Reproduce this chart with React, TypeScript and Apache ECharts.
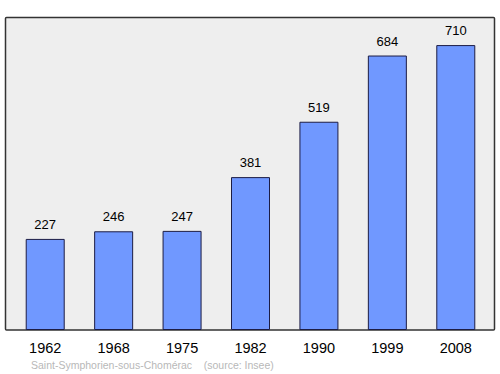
import React, { useEffect, useRef } from "react";
import * as echarts from "echarts";

const years = ["1962", "1968", "1975", "1982", "1990", "1999", "2008"];
const population = [227, 246, 247, 381, 519, 684, 710];
const sourceText = "Saint-Symphorien-sous-Chomérac    (source: Insee)";

export default function App() {
  const ref = useRef<HTMLDivElement>(null);
  useEffect(() => {
    if (!ref.current) return;
    const chart = echarts.init(ref.current, undefined, { renderer: "svg" });
    chart.setOption({
      animation: false,
      backgroundColor: "#ffffff",
      graphic: [
        {
          type: "rect",
          z: -10,
          shape: { x: 5.5, y: 17.5, width: 489, height: 312.5, r: 1 },
          style: { fill: "#eeeeee", stroke: "#333333", lineWidth: 1.5 },
          silent: true,
        },
        {
          type: "text",
          left: 31,
          top: 359,
          style: {
            text: sourceText,
            fill: "#b8b8b8",
            font: "10.5px 'Liberation Sans', Arial, sans-serif",
          },
        },
      ],
      grid: { left: 11, right: 10, top: 17, bottom: 44, containLabel: false },
      xAxis: {
        type: "category",
        data: years,
        axisLine: { show: false },
        axisTick: { show: false },
        axisLabel: {
          color: "#000000",
          fontSize: 14.5,
          fontFamily: "Liberation Sans, Arial, sans-serif",
          margin: 10,
        },
      },
      yAxis: {
        type: "value",
        min: 0,
        max: 780,
        show: false,
        splitLine: { show: false },
      },
      series: [
        {
          type: "bar",
          data: population,
          barWidth: 39,
          itemStyle: { color: "#7098ff", borderColor: "#1c1c44", borderWidth: 1 },
          label: {
            show: true,
            position: "top",
            distance: 8,
            color: "#000000",
            fontSize: 13,
            fontFamily: "Liberation Sans, Arial, sans-serif",
          },
        },
      ],
    });
    return () => chart.dispose();
  }, []);
  return <div ref={ref} style={{ width: 500, height: 374, position: "absolute", left: 0, top: 0 }} />;
}
